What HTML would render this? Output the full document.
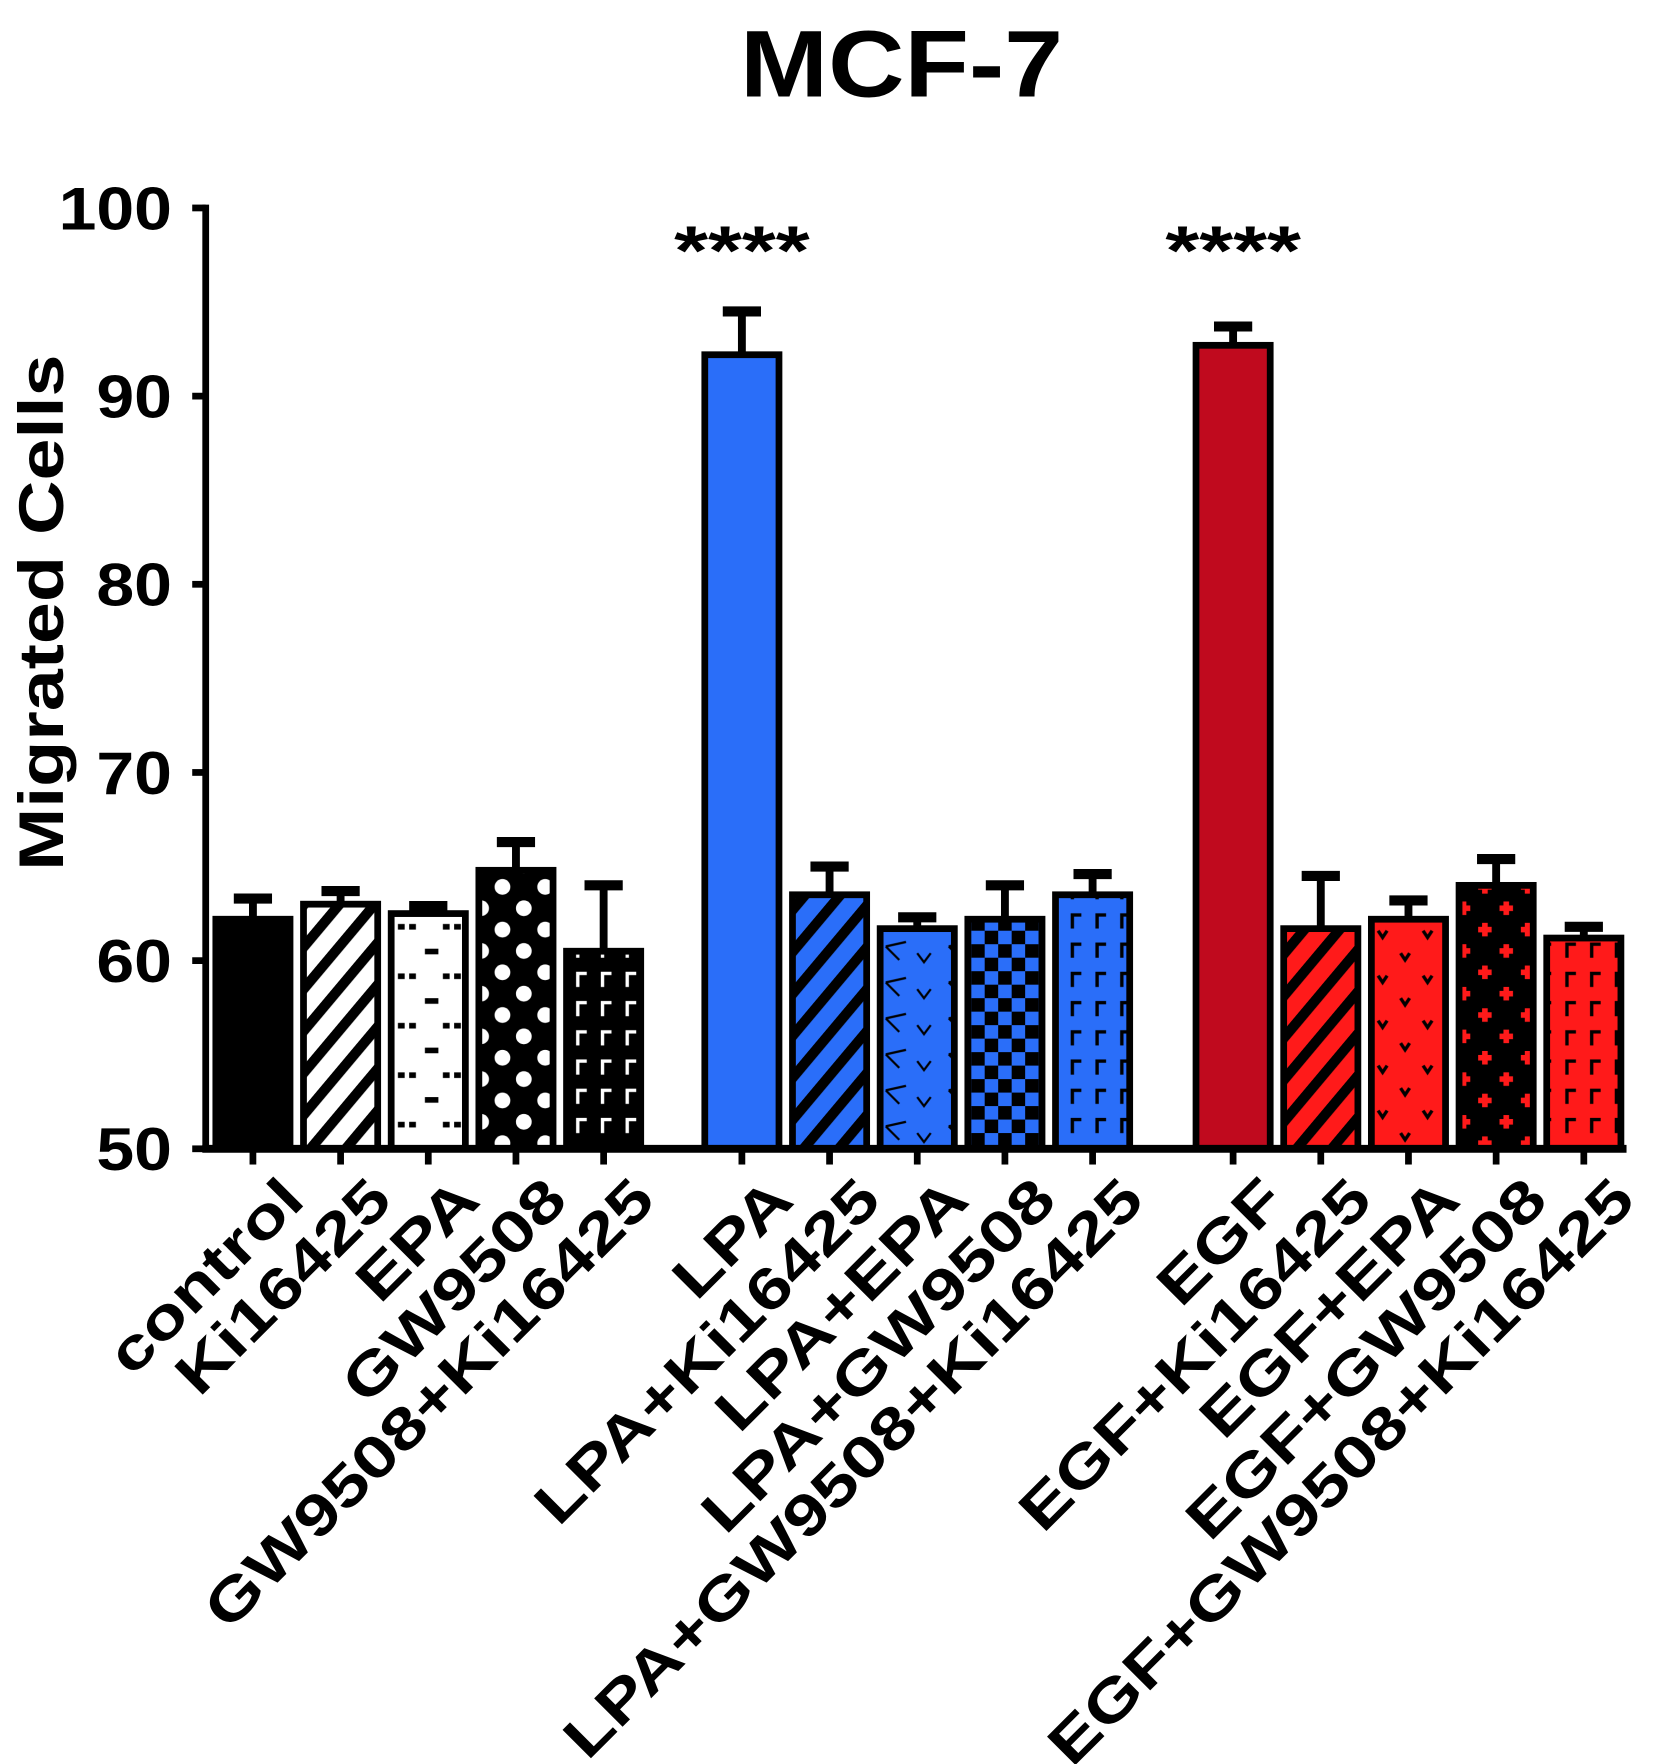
<!DOCTYPE html>
<html><head><meta charset="utf-8"><style>
html,body{margin:0;padding:0;background:#fff;}
svg{display:block;font-family:"Liberation Sans",Arial,sans-serif;font-weight:bold;}
</style></head><body>
<svg id="chart" width="1657" height="1764" viewBox="0 0 1474.1 1569.3" xmlns="http://www.w3.org/2000/svg">
<defs>
  <pattern id="p-diag-w" width="24" height="24" patternUnits="userSpaceOnUse" patternTransform="rotate(40)"><rect width="24" height="24" fill="#fff"/><rect width="9" height="24" fill="#000"/></pattern>
  <pattern id="p-dash-w" width="40" height="44" patternUnits="userSpaceOnUse"><rect width="40" height="44" fill="#fff"/><rect x="18" y="8" width="12" height="5" fill="#000"/><rect x="4" y="30" width="6" height="5" fill="#000"/><rect x="34" y="30" width="6" height="5" fill="#000"/></pattern>
  <pattern id="p-dot-k" width="38" height="38" patternUnits="userSpaceOnUse"><rect width="38" height="38" fill="#000"/><circle cx="10" cy="10" r="7" fill="#fff"/><circle cx="29" cy="29" r="7" fill="#fff"/></pattern>
  <pattern id="p-step-k" width="22" height="26" patternUnits="userSpaceOnUse"><rect width="22" height="26" fill="#000"/><path d="M8 20 V8 H16" stroke="#fff" stroke-width="3" fill="none"/></pattern>
  <pattern id="p-diag-b" width="24" height="24" patternUnits="userSpaceOnUse" patternTransform="rotate(40)"><rect width="24" height="24" fill="#2a6ef9"/><rect width="9" height="24" fill="#000"/></pattern>
  <pattern id="p-arrow-b" width="56" height="32" patternUnits="userSpaceOnUse"><rect width="56" height="32" fill="#2a6ef9"/><path d="M4 10 L22 6 M4 10 L16 22 M32 16 L38 24 L44 16" stroke="#000" stroke-width="2" fill="none"/></pattern>
  <pattern id="p-check-b" width="24" height="24" patternUnits="userSpaceOnUse"><rect width="24" height="24" fill="#2a6ef9"/><rect width="12" height="12" fill="#000"/><rect x="12" y="12" width="12" height="12" fill="#000"/></pattern>
  <pattern id="p-step-b" width="22" height="26" patternUnits="userSpaceOnUse"><rect width="22" height="26" fill="#2a6ef9"/><path d="M8 20 V8 H16" stroke="#000" stroke-width="3" fill="none"/></pattern>
  <pattern id="p-diag-r" width="24" height="24" patternUnits="userSpaceOnUse" patternTransform="rotate(40)"><rect width="24" height="24" fill="#ff1a1a"/><rect width="9" height="24" fill="#000"/></pattern>
  <pattern id="p-heart-r" width="40" height="40" patternUnits="userSpaceOnUse"><rect width="40" height="40" fill="#ff1a1a"/><path d="M6 8 L10 14 L14 8" stroke="#000" stroke-width="3" fill="none"/><path d="M26 28 L30 34 L34 28" stroke="#000" stroke-width="3" fill="none"/></pattern>
  <pattern id="p-cross-r" width="38" height="38" patternUnits="userSpaceOnUse"><rect width="38" height="38" fill="#000"/><path d="M10 4 V16 M4 10 H16 M29 23 V35 M23 29 H35" stroke="#ff1a1a" stroke-width="5"/></pattern>
  <pattern id="p-step-r" width="22" height="26" patternUnits="userSpaceOnUse"><rect width="22" height="26" fill="#ff1a1a"/><path d="M8 20 V8 H16" stroke="#000" stroke-width="3" fill="none"/></pattern>
</defs>
<text transform="translate(802,86) scale(1.12,1)" font-size="84" text-anchor="middle">MCF-7</text>
<text transform="translate(56,545) rotate(-90) scale(1.2,1)" font-size="56" text-anchor="middle">Migrated Cells</text>
<g id="plot"></g>
</svg>
<script>
const categories = ["control","Ki16425","EPA","GW9508","GW9508+Ki16425","LPA","LPA+Ki16425","LPA+EPA","LPA+GW9508","LPA+GW9508+Ki16425","EGF","EGF+Ki16425","EGF+EPA","EGF+GW9508","EGF+GW9508+Ki16425"];
const values = [62.2,63.0,62.5,64.8,60.5,92.2,63.5,61.7,62.2,63.5,92.7,61.7,62.2,64.0,61.2];
const errors = [1.1,0.7,0.4,1.5,3.5,2.3,1.5,0.6,1.8,1.1,1.0,2.8,1.0,1.4,0.6];
const fills = ["#000","url(#p-diag-w)","url(#p-dash-w)","url(#p-dot-k)","url(#p-step-k)","#2a6ef9","url(#p-diag-b)","url(#p-arrow-b)","url(#p-check-b)","url(#p-step-b)","#c00a1e","url(#p-diag-r)","url(#p-heart-r)","url(#p-cross-r)","url(#p-step-r)"];
const yTicks = [50,60,70,80,90,100];
const stars = [{idx:5,text:"****"},{idx:10,text:"****"}];

const NS = "http://www.w3.org/2000/svg";
const g = document.getElementById("plot");
const X0 = 183, Y0 = 1022, YTOP = 185, XEND = 1447;
const yScale = v => Y0 - (v - 50) / 50 * (Y0 - YTOP);
const groupStart = [225, 660, 1097];
const step = 78;
const xScale = i => groupStart[Math.floor(i/5)] + (i%5)*step;
const barW = 66;
function mk(tag, attrs){ const e=document.createElementNS(NS,tag); for(const k in attrs) e.setAttribute(k,attrs[k]); g.appendChild(e); return e; }

categories.forEach((c,i)=>{
  const cx = xScale(i), top = yScale(values[i]), et = yScale(values[i]+errors[i]);
  const el = mk("line",{x1:cx,x2:cx,y1:top,y2:et,stroke:"#000","stroke-width":7});
  
  
  const cap = mk("line",{x1:cx-17,x2:cx+17,y1:et,y2:et,stroke:"#000","stroke-width":9});
  
  
  const r = mk("rect",{x:cx-barW/2,y:top,width:barW,height:Y0-top,fill:fills[i],stroke:"#000","stroke-width":6});
  
  
  const t = mk("line",{x1:cx,x2:cx,y1:Y0,y2:Y0+14,stroke:"#000","stroke-width":6});
  
  
  const lb = mk("text",{transform:`translate(${cx+48},${Y0+48}) rotate(-45) scale(1.25,1)`,"text-anchor":"end","font-size":52});
  lb.textContent = c;
  
  
});
const ya = mk("line",{x1:X0,x2:X0,y1:YTOP-3,y2:Y0+3,stroke:"#000","stroke-width":6});


const xa = mk("line",{x1:X0-3,x2:XEND,y1:Y0,y2:Y0,stroke:"#000","stroke-width":7});


yTicks.forEach(v=>{
  const y=yScale(v);
  const t=mk("line",{x1:X0-12,x2:X0,y1:y,y2:y,stroke:"#000","stroke-width":6});
  
  
  const l=mk("text",{transform:`translate(${X0-30},${y+19}) scale(1.12,1)`,"text-anchor":"end","font-size":54});
  l.textContent=v;
  
  
});
stars.forEach(s=>{
  const t=mk("text",{transform:`translate(${xScale(s.idx)},244) scale(1.25,1)`,"text-anchor":"middle","font-size":62});
  t.textContent=s.text;
  
  
});
</script>
</body></html>
